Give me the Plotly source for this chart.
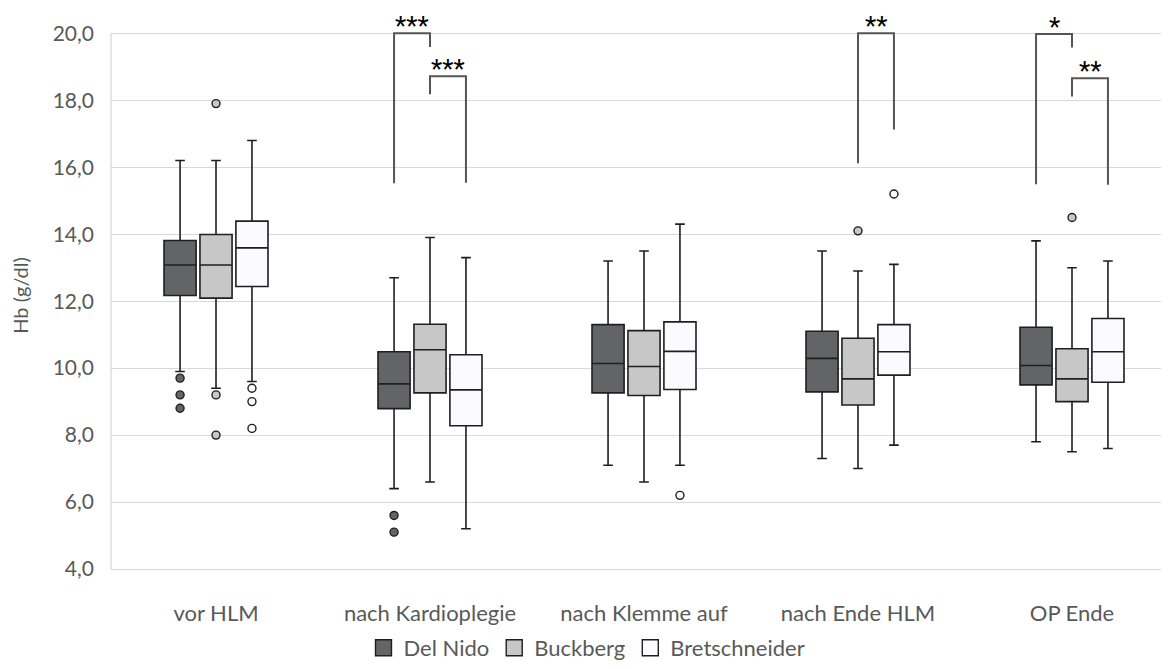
import plotly.graph_objects as go

categories = ["vor HLM", "nach Kardioplegie", "nach Klemme auf", "nach Ende HLM", "OP Ende"]
series_names = ["Del Nido", "Buckberg", "Bretschneider"]

# Del Nido
delnido_lower = [9.9, 6.4, 7.1, 7.3, 7.8]
delnido_q1 = [12.17, 8.79, 9.26, 9.29, 9.50]
delnido_median = [13.08, 9.53, 10.14, 10.29, 10.08]
delnido_q3 = [13.81, 10.49, 11.30, 11.10, 11.22]
delnido_upper = [16.2, 12.7, 13.2, 13.5, 13.8]
delnido_outliers = [[9.7, 9.2, 8.8], [5.6, 5.1], [], [], []]

# Buckberg
buckberg_lower = [9.4, 6.6, 6.6, 7.0, 7.5]
buckberg_q1 = [12.09, 9.26, 9.18, 8.90, 9.00]
buckberg_median = [13.08, 10.55, 10.05, 9.68, 9.68]
buckberg_q3 = [13.99, 11.31, 11.12, 10.89, 10.58]
buckberg_upper = [16.2, 13.9, 13.5, 12.9, 13.0]
buckberg_outliers = [[17.9, 9.2, 8.0], [], [], [14.1], [14.5]]

# Bretschneider
bretsch_lower = [9.6, 5.2, 7.1, 7.7, 7.6]
bretsch_q1 = [12.44, 8.28, 9.36, 9.79, 9.58]
bretsch_median = [13.59, 9.35, 10.50, 10.49, 10.49]
bretsch_q3 = [14.39, 10.40, 11.38, 11.30, 11.48]
bretsch_upper = [16.8, 13.3, 14.3, 13.1, 13.2]
bretsch_outliers = [[9.4, 9.0, 8.2], [], [6.2], [15.2], []]

# significance brackets
bracket_category = [1, 1, 3, 4, 4]
bracket_from = [0, 1, 1, 0, 1]
bracket_to = [1, 2, 2, 1, 2]
bracket_from_end = [15.52, 18.18, 16.12, 15.49, 18.11]
bracket_top = [20.0, 18.72, 20.0, 19.98, 18.66]
bracket_to_end = [19.59, 15.54, 17.13, 19.58, 15.48]
bracket_label = ["***", "***", "**", "*", "**"]

y_ticks = [4, 6, 8, 10, 12, 14, 16, 18, 20]
y_ticktext = ["4,0", "6,0", "8,0", "10,0", "12,0", "14,0", "16,0", "18,0", "20,0"]

# styling
fills = ["#636467", "#c7c7c7", "#fbfaff"]
edge = "#1f1f1f"
offsets = [-0.168, 0.0, 0.168]
box_w = 0.15
FONT = "Lato"
TXT = "#595959"

series = [
    (delnido_lower, delnido_q1, delnido_median, delnido_q3, delnido_upper, delnido_outliers),
    (buckberg_lower, buckberg_q1, buckberg_median, buckberg_q3, buckberg_upper, buckberg_outliers),
    (bretsch_lower, bretsch_q1, bretsch_median, bretsch_q3, bretsch_upper, bretsch_outliers),
]

fig = go.Figure()
idx = list(range(len(categories)))
for s, (lo, q1, med, q3, up, outs) in enumerate(series):
    xs = [i + offsets[s] for i in idx]
    fig.add_trace(go.Box(
        x=xs, q1=q1, median=med, q3=q3, lowerfence=lo, upperfence=up,
        width=box_w, whiskerwidth=0.3, boxpoints=False,
        fillcolor=fills[s], line=dict(color=edge, width=1.6),
        showlegend=False, hoverinfo="skip", name=series_names[s]))
    ox, oy = [], []
    for i, vals in enumerate(outs):
        for v in vals:
            ox.append(i + offsets[s])
            oy.append(v)
    fig.add_trace(go.Scatter(
        x=ox, y=oy, mode="markers",
        marker=dict(size=8, color=fills[s], line=dict(color=edge, width=1.4)),
        showlegend=False, hoverinfo="skip"))
    fig.add_trace(go.Scatter(
        x=[None], y=[None], mode="markers", name=series_names[s],
        marker=dict(symbol="square", size=16, color=fills[s], line=dict(color=edge, width=1.4))))

for k in range(len(bracket_category)):
    c = bracket_category[k]
    xa = c + offsets[bracket_from[k]]
    xb = c + offsets[bracket_to[k]]
    fig.add_trace(go.Scatter(
        x=[xa, xa, xb, xb],
        y=[bracket_from_end[k], bracket_top[k], bracket_top[k], bracket_to_end[k]],
        mode="lines", line=dict(color="#555555", width=2),
        showlegend=False, hoverinfo="skip"))
    fig.add_annotation(x=(xa + xb) / 2, y=bracket_top[k], text=bracket_label[k],
                       showarrow=False, yanchor="middle", yshift=7,
                       font=dict(family="Roboto", size=26, color="#000000"))

fig.add_shape(type="line", xref="paper", x0=0, x1=0, yref="y", y0=4, y1=20,
              line=dict(color="#d9d9d9", width=1.3))

fig.update_layout(
    width=1161, height=661,
    margin=dict(l=103, r=0, t=14, b=100, autoexpand=False),
    paper_bgcolor="white", plot_bgcolor="white",
    font=dict(family=FONT, color=TXT),
    xaxis=dict(range=[-0.4907, 4.4533], tickvals=idx, ticktext=categories,
               showgrid=False, zeroline=False, showline=True, linecolor="#d9d9d9",
               linewidth=1.3, ticks="", tickfont=dict(size=22, color=TXT),
               ticklabelstandoff=24),
    yaxis=dict(range=[4, 20.338], tickvals=y_ticks, ticktext=y_ticktext,
               showgrid=True, gridcolor="#d9d9d9", gridwidth=1.3, zeroline=False,
               ticks="", tickfont=dict(size=21, color=TXT), ticklabelstandoff=16,
               title=dict(text="Hb (g/dl)", font=dict(size=20, color=TXT), standoff=19)),
    legend=dict(orientation="h", xref="container", yref="container",
                x=0.4987, y=0.0318, xanchor="center", yanchor="middle",
                font=dict(size=22, color=TXT), itemwidth=30),
)

fig.write_html("out.html")
